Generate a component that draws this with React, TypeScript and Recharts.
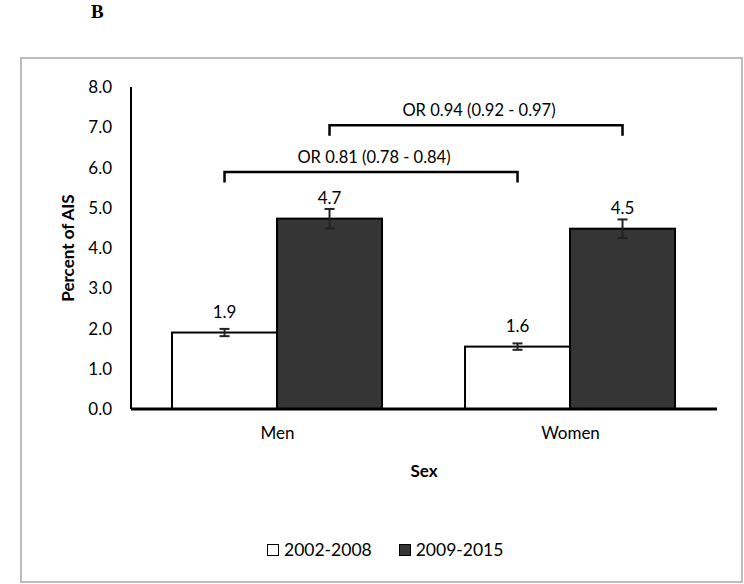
import React from 'react';
import { BarChart, Bar, XAxis, YAxis, ErrorBar, LabelList, Legend } from 'recharts';

const categories = ['Men', 'Women'];
const period1 = [1.9, 1.55];
const period2 = [4.73, 4.48];
const period1Err = [0.09, 0.08];
const period2Err = [0.24, 0.23];
const yTicks = [0, 1, 2, 3, 4, 5, 6, 7, 8];
const seriesNames = ['2002-2008', '2009-2015'];
const orLabels = ['OR 0.81 (0.78 - 0.84)', 'OR 0.94 (0.92 - 0.97)'];
const bracketLevels = [5.89, 7.05];

const data = categories.map((c, i) => ({
  sex: c,
  p1: period1[i],
  p2: period2[i],
  e1: period1Err[i],
  e2: period2Err[i],
}));

const FONT = 'Lato, "Open Sans", sans-serif';
const WHITE = '#ffffff';
const DARK = '#353535';

const store: Record<string, { cx: number; base: number; ppu: number }> = {};

function makeShape(key: 'p1' | 'p2', fill: string, bracketIdx: number) {
  return (props: any) => {
    const { x, y, width, height, index, payload } = props;
    const cx = x + width / 2;
    const base = y + height;
    const ppu = height / payload[key];
    store[key + index] = { cx, base, ppu };
    let bracket: React.ReactNode = null;
    if (index === 1) {
      const a = store[key + '0'];
      if (a) {
        const level = bracketLevels[bracketIdx];
        const yl = base - level * ppu;
        const yt = base - (level - 0.26) * ppu;
        const ylab = base - (level + 0.38) * ppu;
        bracket = (
          <g>
            <path
              d={`M${a.cx},${yt} L${a.cx},${yl} L${cx},${yl} L${cx},${yt}`}
              fill="none"
              stroke="#000"
              strokeWidth={2.5}
            />
            <text
              x={(a.cx + cx) / 2 + 3}
              y={ylab}
              textAnchor="middle"
              dominantBaseline="central"
              fontFamily={FONT}
              fontSize={16.5}
              fill="#000"
            >
              {orLabels[bracketIdx]}
            </text>
          </g>
        );
      }
    }
    return (
      <g>
        <rect x={x} y={y} width={width} height={height} fill={fill} stroke="#000" strokeWidth={2} />
        {bracket}
      </g>
    );
  };
}

const LegendContent = () => (
  <div style={{ height: 0, position: 'relative' }}>
    <div
      style={{
        position: 'absolute',
        left: 267,
        top: 0,
        display: 'flex',
        alignItems: 'center',
        fontFamily: FONT,
        fontSize: 17.5,
        color: '#000',
        whiteSpace: 'nowrap',
      }}
    >
      {seriesNames.map((n, i) => (
        <div key={n} style={{ display: 'flex', alignItems: 'center', marginRight: i === 0 ? 27 : 0 }}>
          <span
            style={{
              display: 'inline-block',
              width: 10,
              height: 10,
              border: '1.5px solid #000',
              background: i === 0 ? WHITE : DARK,
              marginRight: 5,
            }}
          />
          <span>{n}</span>
        </div>
      ))}
    </div>
  </div>
);

export default function App() {
  return (
    <div style={{ position: 'absolute', left: 0, top: 0, width: 744, height: 584, background: '#fff' }}>
      <div
        style={{
          position: 'absolute',
          left: 20,
          top: 57,
          width: 723,
          height: 526,
          boxSizing: 'border-box',
          border: '2px solid #bdbdbd',
        }}
      />
      <div
        style={{
          position: 'absolute',
          left: 91,
          top: 2,
          fontFamily: '"Liberation Serif", "Times New Roman", serif',
          fontWeight: 'bold',
          fontSize: 19,
          lineHeight: '19px',
        }}
      >
        B
      </div>
      <div style={{ position: 'absolute', left: 0, top: 0 }}>
        <BarChart
          width={744}
          height={584}
          data={data}
          margin={{ top: 87, right: 27, bottom: 105, left: 71 }}
          barCategoryGap="14%"
          barGap={0}
        >
          <XAxis
            dataKey="sex"
            axisLine={{ stroke: '#000', strokeWidth: 3 }}
            tickLine={false}
            tickSize={0}
            tickMargin={18}
            tick={{ fill: '#000', fontSize: 17, fontFamily: FONT }}
            height={70}
            label={(p: any) => {
              const vb = p.viewBox;
              return (
                <text
                  x={vb.x + vb.width / 2}
                  y={vb.y + 61}
                  textAnchor="middle"
                  dominantBaseline="central"
                  fontFamily={FONT}
                  fontWeight="bold"
                  fontSize={17}
                  fill="#000"
                >
                  Sex
                </text>
              );
            }}
          />
          <YAxis
            domain={[0, 8]}
            ticks={yTicks}
            interval={0}
            tickFormatter={(v: number) => v.toFixed(1)}
            axisLine={{ stroke: '#000', strokeWidth: 2 }}
            tickLine={false}
            tickSize={0}
            tickMargin={19}
            tick={{ fill: '#000', fontSize: 17, fontFamily: FONT }}
            width={60}
            label={(p: any) => {
              const vb = p.viewBox;
              const cx = vb.x - 4;
              const cy = vb.y + vb.height / 2;
              return (
                <text
                  x={cx}
                  y={cy}
                  transform={`rotate(-90 ${cx} ${cy})`}
                  textAnchor="middle"
                  dominantBaseline="central"
                  fontFamily={FONT}
                  fontWeight="bold"
                  fontSize={17}
                  fill="#000"
                >
                  Percent of AIS
                </text>
              );
            }}
          />
          <Legend
            verticalAlign="bottom"
            wrapperStyle={{ position: 'absolute', top: 539, left: 0, width: 744, height: 0 }}
            content={LegendContent}
          />
          <Bar
            dataKey="p1"
            name={seriesNames[0]}
            fill={WHITE}
            isAnimationActive={false}
            shape={makeShape('p1', WHITE, 0)}
          >
            <ErrorBar dataKey="e1" width={5} stroke="#222" strokeWidth={2} direction="y" />
            <LabelList
              dataKey="p1"
              position="top"
              offset={15}
              formatter={(v: any) => Number(v).toFixed(1)}
              fill="#000"
              fontSize={17}
              fontFamily={FONT}
            />
          </Bar>
          <Bar
            dataKey="p2"
            name={seriesNames[1]}
            fill={DARK}
            isAnimationActive={false}
            shape={makeShape('p2', DARK, 1)}
          >
            <ErrorBar dataKey="e2" width={5} stroke="#222" strokeWidth={2} direction="y" />
            <LabelList
              dataKey="p2"
              position="top"
              offset={15}
              formatter={(v: any) => Number(v).toFixed(1)}
              fill="#000"
              fontSize={17}
              fontFamily={FONT}
            />
          </Bar>
        </BarChart>
      </div>
    </div>
  );
}
